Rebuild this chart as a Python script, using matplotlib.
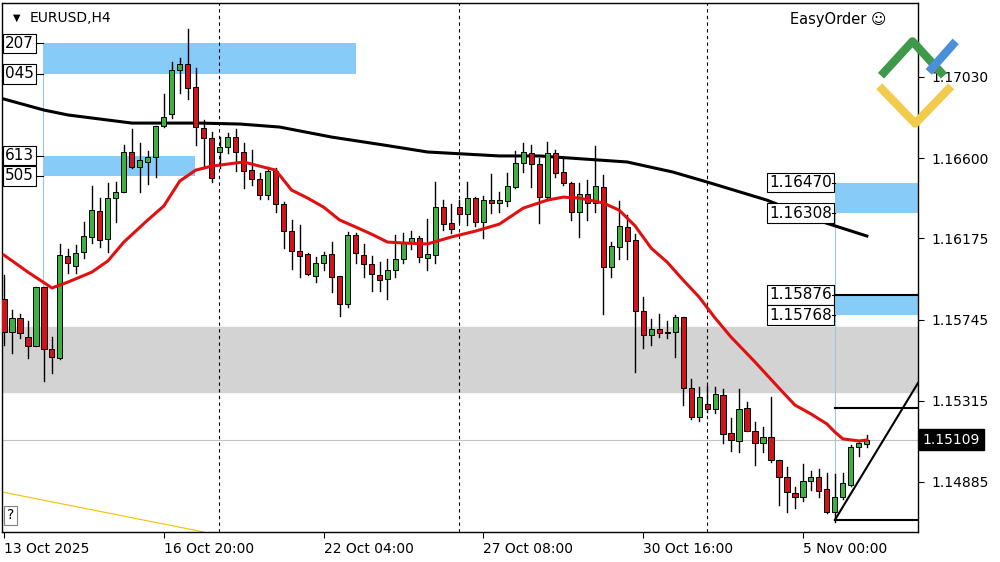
import matplotlib
matplotlib.use("Agg")
import matplotlib.pyplot as plt
from matplotlib.patches import Rectangle

# EURUSD H4 candles, oldest first
opens = [1.15853, 1.15679, 1.15753, 1.15652, 1.15605, 1.15917, 1.15589, 1.15541, 1.16081, 1.16028,
         1.16102, 1.16182, 1.16319, 1.16171, 1.16388, 1.16420, 1.16631, 1.16552, 1.16579, 1.16605,
         1.16769, 1.16833, 1.17065, 1.17097, 1.16976, 1.16759, 1.16706, 1.16631, 1.16658, 1.16711,
         1.16631, 1.16536, 1.16489, 1.16404, 1.16531, 1.16356, 1.16213, 1.16107, 1.16092, 1.15975,
         1.16044, 1.16092, 1.15975, 1.15827, 1.16192, 1.16086, 1.16039, 1.15980, 1.15959, 1.16007,
         1.16065, 1.16155, 1.16176, 1.16070, 1.16086, 1.16340, 1.16256, 1.16340, 1.16303, 1.16388,
         1.16261, 1.16377, 1.16362, 1.16372, 1.16446, 1.16573, 1.16626, 1.16568, 1.16393, 1.16626,
         1.16526, 1.16467, 1.16314, 1.16409, 1.16362, 1.16446, 1.16023, 1.16129, 1.16235, 1.16166,
         1.15790, 1.15663, 1.15695, 1.15679, 1.15679, 1.15758, 1.15382, 1.15229, 1.15298, 1.15271,
         1.15345, 1.15144, 1.15102, 1.15276, 1.15155, 1.15091, 1.15123, 1.15001, 1.14911, 1.14827,
         1.14805, 1.14890, 1.14911, 1.14848, 1.14726, 1.14805, 1.14869, 1.15070, 1.15086]
highs = [1.15980, 1.15795, 1.15774, 1.15737, 1.15917, 1.15917, 1.15652, 1.16145, 1.16118, 1.16139,
         1.16261, 1.16452, 1.16388, 1.16467, 1.16473, 1.16669, 1.16753, 1.16679, 1.16637, 1.16769,
         1.16938, 1.17108, 1.17129, 1.17283, 1.17076, 1.16801, 1.16737, 1.16711, 1.16732, 1.16753,
         1.16679, 1.16642, 1.16520, 1.16552, 1.16547, 1.16367, 1.16272, 1.16245, 1.16097, 1.16076,
         1.16102, 1.16155, 1.15975, 1.16208, 1.16203, 1.16145, 1.16081, 1.16049, 1.16065, 1.16192,
         1.16203, 1.16213, 1.16187, 1.16277, 1.16473, 1.16377, 1.16356, 1.16377, 1.16473, 1.16393,
         1.16399, 1.16515, 1.16420, 1.16520, 1.16637, 1.16679, 1.16669, 1.16600, 1.16684, 1.16642,
         1.16600, 1.16473, 1.16467, 1.16483, 1.16663, 1.16510, 1.16155, 1.16372, 1.16298, 1.16197,
         1.15864, 1.15748, 1.15774, 1.15737, 1.15769, 1.15758, 1.15430, 1.15388, 1.15393, 1.15388,
         1.15377, 1.15224, 1.15377, 1.15308, 1.15202, 1.15176, 1.15335, 1.15001, 1.14964, 1.14858,
         1.14980, 1.14943, 1.14954, 1.14932, 1.14927, 1.14932, 1.15081, 1.15097, 1.15134]
lows = [1.15610, 1.15568, 1.15647, 1.15541, 1.15605, 1.15419, 1.15462, 1.15536, 1.15991, 1.15991,
        1.16070, 1.16150, 1.16129, 1.16102, 1.16261, 1.16420, 1.16547, 1.16420, 1.16462, 1.16499,
        1.16764, 1.16811, 1.16944, 1.16912, 1.16669, 1.16552, 1.16473, 1.16547, 1.16626, 1.16531,
        1.16441, 1.16457, 1.16383, 1.16383, 1.16314, 1.16123, 1.16012, 1.15970, 1.15980, 1.15943,
        1.16007, 1.15890, 1.15763, 1.15811, 1.16044, 1.15970, 1.15896, 1.15896, 1.15853, 1.15970,
        1.16044, 1.16118, 1.16049, 1.16007, 1.16044, 1.16219, 1.16203, 1.16261, 1.16245, 1.16240,
        1.16176, 1.16309, 1.16314, 1.16346, 1.16441, 1.16526, 1.16446, 1.16256, 1.16388, 1.16499,
        1.16457, 1.16272, 1.16182, 1.16272, 1.16314, 1.15774, 1.15970, 1.16065, 1.16065, 1.15467,
        1.15594, 1.15610, 1.15652, 1.15647, 1.15546, 1.15292, 1.15218, 1.15208, 1.15255, 1.15250,
        1.15091, 1.15049, 1.15044, 1.15155, 1.14975, 1.15044, 1.14991, 1.14763, 1.14726, 1.14747,
        1.14784, 1.14842, 1.14805, 1.14721, 1.14673, 1.14795, 1.14864, 1.15022, 1.15070]
closes = [1.15679, 1.15753, 1.15673, 1.15605, 1.15917, 1.15589, 1.15546, 1.16086, 1.16044, 1.16097,
          1.16187, 1.16324, 1.16166, 1.16388, 1.16420, 1.16631, 1.16552, 1.16589, 1.16605, 1.16769,
          1.16817, 1.17065, 1.17097, 1.16970, 1.16764, 1.16706, 1.16494, 1.16658, 1.16711, 1.16631,
          1.16531, 1.16489, 1.16404, 1.16531, 1.16356, 1.16213, 1.16107, 1.16081, 1.15986, 1.16044,
          1.16086, 1.15970, 1.15827, 1.16192, 1.16097, 1.16039, 1.15986, 1.15954, 1.16007, 1.16065,
          1.16155, 1.16176, 1.16076, 1.16092, 1.16340, 1.16250, 1.16224, 1.16303, 1.16388, 1.16261,
          1.16377, 1.16362, 1.16377, 1.16452, 1.16573, 1.16631, 1.16568, 1.16393, 1.16626, 1.16520,
          1.16467, 1.16314, 1.16409, 1.16362, 1.16452, 1.16023, 1.16134, 1.16240, 1.16160, 1.15790,
          1.15663, 1.15695, 1.15673, 1.15673, 1.15758, 1.15382, 1.15229, 1.15335, 1.15271, 1.15351,
          1.15139, 1.15107, 1.15271, 1.15155, 1.15091, 1.15123, 1.15001, 1.14911, 1.14832, 1.14805,
          1.14890, 1.14911, 1.14837, 1.14726, 1.14805, 1.14880, 1.15070, 1.15091, 1.15109]

# moving averages (bar index, price)
fast_ma_idx = [0, 3, 6, 8, 11, 13, 15, 18, 20, 22, 24, 26, 28, 30, 32, 34, 36, 38, 40, 42, 44, 46,
               48, 50, 53, 56, 59, 62, 65, 68, 70, 72, 75, 77, 79, 81, 83, 85, 87, 89, 91, 94, 97,
               99, 101, 103, 104, 105, 107, 108]
fast_ma = [1.16086, 1.15996, 1.15912, 1.15943, 1.15996, 1.16055, 1.16155, 1.16272, 1.16346, 1.16478,
           1.16536, 1.16557, 1.16568, 1.16579, 1.16557, 1.16536, 1.16430, 1.16388, 1.16340, 1.16272,
           1.16235, 1.16197, 1.16155, 1.16150, 1.16145, 1.16182, 1.16213, 1.16250, 1.16335, 1.16377,
           1.16393, 1.16388, 1.16362, 1.16324, 1.16240, 1.16123, 1.16049, 1.15954, 1.15864, 1.15753,
           1.15652, 1.15520, 1.15382, 1.15292, 1.15245, 1.15192, 1.15149, 1.15113, 1.15102, 1.15107]
slow_ma_idx = [-0.5, 5, 8, 16, 21, 24.5, 29.5, 34.5, 41, 47.5, 53, 62, 67, 78, 83.7, 88, 95.5, 101.7, 108]
slow_ma = [1.16918, 1.16854, 1.16828, 1.16785, 1.16785, 1.16785, 1.16780, 1.16764, 1.16711, 1.16669,
           1.16632, 1.16611, 1.16611, 1.16579, 1.16526, 1.16473, 1.16377, 1.16272, 1.16187]

price_ticks = [1.17030, 1.16600, 1.16175, 1.15745, 1.15315, 1.14885]
time_idx = [0, 20, 40, 60, 80, 100]
time_labels = ["13 Oct 2025", "16 Oct 20:00", "22 Oct 04:00", "27 Oct 08:00", "30 Oct 16:00", "5 Nov 00:00"]
separators = [26.9, 57, 88]

# zones: (x0, x1, low, high)
left_zones = [(4.9, 44, 1.17045, 1.17207), (4.9, 23.9, 1.16505, 1.16613)]
right_zones = [(104, 1.16308, 1.16470), (104, 1.15768, 1.15876)]
gray_zone = (1.15362, 1.15705)
last_price = 1.15109

fig = plt.figure(figsize=(10, 5.62), dpi=100)
ax = fig.add_axes([0.002, 0.0534, 0.916, 0.941])
XMIN, XMAX = -0.25, 114.4
ax.set_xlim(XMIN, XMAX)
ax.set_ylim(1.14620, 1.17420)

ax.axhspan(gray_zone[0], gray_zone[1], color="#d3d3d3", zorder=0)
blue = "#87cbf9"
for x0, x1, lo, hi in left_zones:
    ax.add_patch(Rectangle((x0, lo), x1 - x0, hi - lo, color=blue, zorder=1, lw=0))
for x0, lo, hi in right_zones:
    ax.add_patch(Rectangle((x0, lo), XMAX - x0, hi - lo, color=blue, zorder=1, lw=0))
ax.plot([4.9, 4.9], [1.15917, 1.17207], color="#9cc7e3", lw=0.8, zorder=1)
ax.plot([104, 104], [1.14684, 1.16470], color="#9cc7e3", lw=0.8, zorder=1)

for s in separators:
    ax.axvline(s, color="black", lw=0.8, ls=(0, (3, 3)), zorder=1)
ax.axhline(last_price, color="#c0c0c0", lw=0.8, zorder=1)

# lower right trend tools
ax.plot([104, XMAX], [1.15276, 1.15276], color="black", lw=1.5, zorder=3)
ax.plot([104, XMAX], [1.14684, 1.14684], color="black", lw=1.5, zorder=3)
ax.plot([104, XMAX], [1.14684, 1.15409], color="black", lw=1.5, zorder=3)
ax.plot([104, XMAX], [1.15876, 1.15876], color="black", lw=1.5, zorder=3)
ax.plot([XMIN, 25], [1.14832, 1.14620], color="#f0c000", lw=0.8, zorder=2)

ax.plot(slow_ma_idx, slow_ma, color="black", lw=2.2, zorder=4)
ax.plot(fast_ma_idx, fast_ma, color="#e01010", lw=2.2, zorder=6)

for i, (o, h, l, c) in enumerate(zip(opens, highs, lows, closes)):
    ax.plot([i, i], [l, h], color="black", lw=1, zorder=5)
    col = "#3cb043" if c >= o else "#d0141c"
    lo, hi = min(o, c), max(o, c)
    ax.add_patch(Rectangle((i - 0.32, lo), 0.64, max(hi - lo, 0.00002), facecolor=col,
                           edgecolor="black", lw=0.7, zorder=5))

# level labels
box = dict(boxstyle="square,pad=0.15", fc="white", ec="black", lw=0.8)
for x0, x1, lo, hi in left_zones:
    for v in (hi, lo):
        ax.text(0.1, v, str(int(round(v * 1e5)))[-3:], fontsize=11, va="center", ha="left",
                bbox=box, zorder=8)
        ax.plot([4.0, 4.9], [v, v], color="black", lw=0.8, zorder=8)
for x0, lo, hi in right_zones:
    for v in (hi, lo):
        ax.text(103.6, v, f"{v:.5f}", fontsize=11, va="center", ha="right", bbox=box, zorder=8)
        ax.plot([103.6, 104], [v, v], color="black", lw=0.8, zorder=8)

ax.yaxis.tick_right()
ax.set_yticks(price_ticks)
ax.set_yticklabels([f"{p:.5f}" for p in price_ticks], fontsize=10)
ax.set_xticks(time_idx)
ax.set_xticklabels(time_labels, fontsize=10, ha="left")
ax.tick_params(axis="x", direction="out", length=4, pad=3)
ax.tick_params(axis="y", direction="out", length=4, pad=6)
ax.text(XMAX + 0.6, last_price, f"{last_price:.5f}", fontsize=10, color="white",
        va="center", ha="left", clip_on=False,
        bbox=dict(boxstyle="square,pad=0.25", fc="black", ec="black"), zorder=9)
for sp in ax.spines.values():
    sp.set_linewidth(1)

ax.text(0.012, 0.972, "\u25BC", transform=ax.transAxes, fontsize=7, va="center")
ax.text(0.03, 0.972, "EURUSD,H4", transform=ax.transAxes, fontsize=10, va="center")
ax.text(0.005, 0.018, "?", transform=ax.transAxes, fontsize=10, va="bottom",
        bbox=dict(boxstyle="square,pad=0.2", fc="white", ec="#808080", lw=0.8))
ax.text(0.965, 0.97, "EasyOrder \u263A", transform=ax.transAxes, fontsize=10.5, va="center", ha="right")

# logo
lax = fig.add_axes([0.872, 0.77, 0.09, 0.17])
lax.set_xlim(0, 10)
lax.set_ylim(0, 10)
lax.axis("off")
lax.plot([0.8, 4.8, 8.8], [4.5, 0.6, 4.5], color="#f2cb4c", lw=6, solid_capstyle="butt")
lax.plot([1.0, 4.5, 8.0], [5.6, 9.2, 5.6], color="#3e9a48", lw=6, solid_capstyle="butt")
lax.plot([6.3, 9.3], [6.0, 9.2], color="#4a8fd8", lw=6, solid_capstyle="butt")

fig.savefig("out.png", dpi=100)
